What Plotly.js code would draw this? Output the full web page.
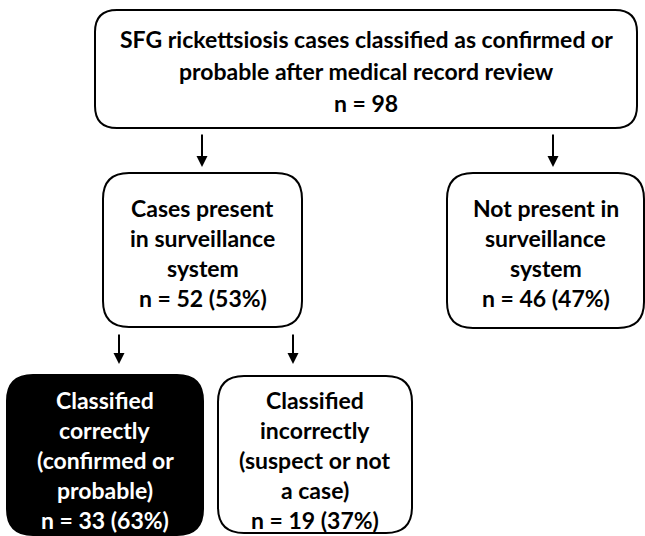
<!DOCTYPE html>
<html>
<head>
<meta charset="utf-8">
<script src="https://cdn.plot.ly/plotly-3.0.1.min.js"></script>
<style>html,body{margin:0;padding:0;background:#fff;}#chart{width:645px;height:536px;}</style>
</head>
<body>
<div id="chart"></div>
<script>
// ---- data ----
const boxLabels = [
  "SFG rickettsiosis cases classified as confirmed or<br>probable after medical record review",
  "Cases present<br>in surveillance<br>system",
  "Not present in<br>surveillance<br>system",
  "Classified<br>correctly<br>(confirmed or<br>probable)",
  "Classified<br>incorrectly<br>(suspect or not<br>a case)"
];
const boxCounts = [98, 52, 46, 33, 19];
const boxPercents = [null, 53, 47, 63, 37];
const boxFilled = [false, false, false, true, false];
const links = [[0, 1], [0, 2], [1, 3], [1, 4]];

// ---- layout geometry (pixels) ----
const geom = [
  {x0: 95,  x1: 637, y0: 10,  y1: 128, r: 22, first: 39,  step: 32},
  {x0: 103, x1: 302, y0: 173, y1: 327, r: 26, first: 208, step: 30},
  {x0: 447, x1: 644, y0: 173, y1: 328, r: 26, first: 208, step: 30},
  {x0: 7,   x1: 203, y0: 375, y1: 535, r: 26, first: 400, step: 30},
  {x0: 218, x1: 412, y0: 376, y1: 533, r: 26, first: 400, step: 30}
];
const arrowGeom = [
  {x: 202, yFrom: 133, yTo: 167},
  {x: 553, yFrom: 133, yTo: 167},
  {x: 119, yFrom: 333, yTo: 364},
  {x: 293, yFrom: 333, yTo: 364}
];
const FONT = {family: "Lato, 'Open Sans', sans-serif", size: 23};

function roundRect(g) {
  const {x0, x1, y0, y1, r} = g;
  return `M ${x0 + r},${y0} L ${x1 - r},${y0} Q ${x1},${y0} ${x1},${y0 + r} ` +
         `L ${x1},${y1 - r} Q ${x1},${y1} ${x1 - r},${y1} L ${x0 + r},${y1} ` +
         `Q ${x0},${y1} ${x0},${y1 - r} L ${x0},${y0 + r} Q ${x0},${y0} ${x0 + r},${y0} Z`;
}

const shapes = [];
const annotations = [];
boxLabels.forEach((label, i) => {
  const g = geom[i];
  shapes.push({
    type: 'path', xref: 'x', yref: 'y', path: roundRect(g),
    line: {color: '#000', width: 2},
    fillcolor: boxFilled[i] ? '#000' : '#fff'
  });
  const lines = label.split('<br>');
  lines.push('n = ' + boxCounts[i] + (boxPercents[i] !== null ? ' (' + boxPercents[i] + '%)' : ''));
  const cx = (g.x0 + g.x1) / 2;
  lines.forEach((t, k) => {
    annotations.push({
      x: cx, y: g.first + k * g.step, xref: 'x', yref: 'y',
      text: '<b>' + t + '</b>', showarrow: false,
      xanchor: 'center', yanchor: 'middle',
      font: {family: FONT.family, size: FONT.size, color: boxFilled[i] ? '#fff' : '#000'}
    });
  });
});
links.forEach((l, j) => {
  const a = arrowGeom[j];
  annotations.push({
    x: a.x, y: a.yTo, ax: a.x, ay: a.yFrom, xref: 'x', yref: 'y', axref: 'x', ayref: 'y',
    text: '', showarrow: true, arrowhead: 2, arrowsize: 1.1, arrowwidth: 2, arrowcolor: '#000'
  });
});

const layout = {
  width: 645, height: 536,
  margin: {l: 0, r: 0, t: 0, b: 0},
  paper_bgcolor: '#fff', plot_bgcolor: '#fff',
  xaxis: {range: [0, 645], visible: false, fixedrange: true},
  yaxis: {range: [536, 0], visible: false, fixedrange: true},
  shapes: shapes, annotations: annotations, showlegend: false
};
Plotly.newPlot('chart', [], layout, {staticPlot: true, displayModeBar: false});
</script>
</body>
</html>
